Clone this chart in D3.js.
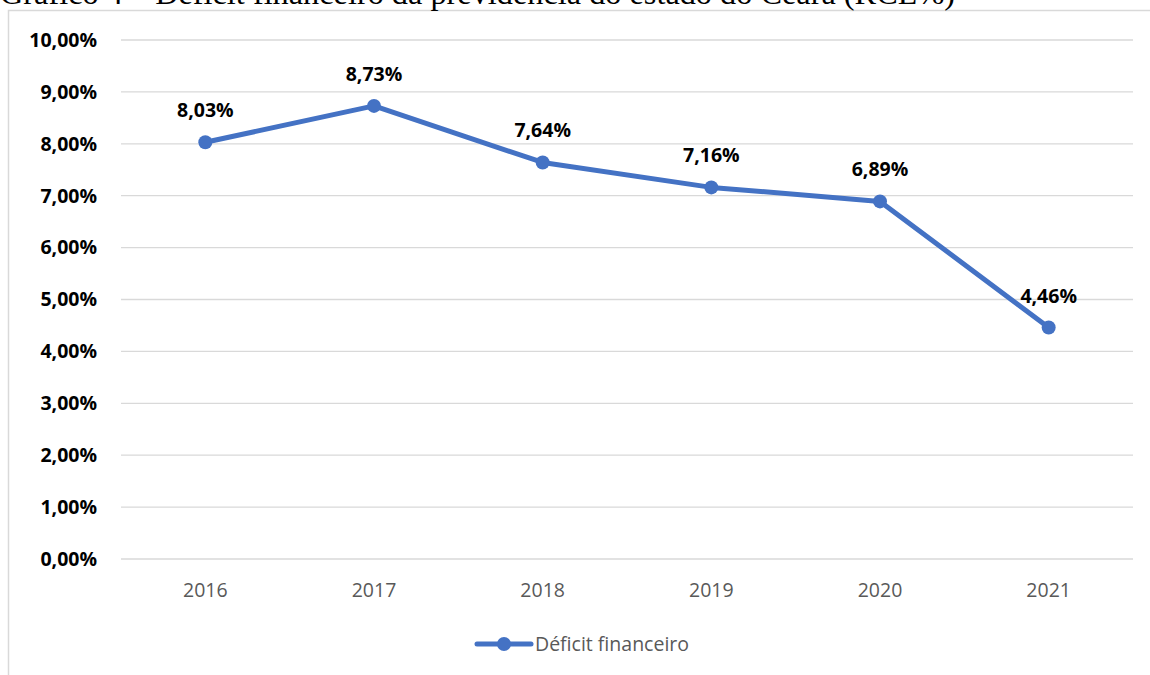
<!DOCTYPE html>
<html>
    <head>
        <meta charset="utf-8" />
        <title>Déficit financeiro</title>
        <style type="text/css">
            body {
                margin: 0;
                background-color: #fff;
            }
            svg {
                display: block;
            }
            .grid line {
                stroke: #d9d9d9;
                stroke-width: 1.3px;
            }
            .ylabel {
                font-family: "Open Sans", sans-serif;
                font-weight: bold;
                font-size: 19.5px;
                fill: #000;
            }
            .xlabel {
                font-family: "Open Sans", sans-serif;
                font-size: 19.5px;
                fill: #595959;
            }
            .dlabel {
                font-family: "Open Sans", sans-serif;
                font-weight: bold;
                font-size: 19.5px;
                fill: #000;
            }
            .title {
                font-family: "Liberation Serif", "Times New Roman", serif;
                font-size: 32.3px;
                fill: #000;
            }
        </style>
        <script src="https://d3js.org/d3.v7.min.js"></script>
    </head>
    <body>
        <div id="chart"></div>
        <script type="text/javascript">
            var years = ["2016", "2017", "2018", "2019", "2020", "2021"];
            var deficit = [8.03, 8.73, 7.64, 7.16, 6.89, 4.46];
            var yTicks = [0, 1, 2, 3, 4, 5, 6, 7, 8, 9, 10];
            var seriesName = "Déficit financeiro";
            var titleText = "Gráfico 4 – Déficit financeiro da previdência do estado do Ceará (RCL%)";

            var width = 1150,
                height = 675;
            var blue = "#4472c4";

            var fmt = function (v) {
                return v.toFixed(2).replace(".", ",") + "%";
            };

            var svg = d3
                .select("#chart")
                .append("svg")
                .attr("width", width)
                .attr("height", height);

            // frame (runs off the right and bottom edge)
            svg.append("rect")
                .attr("x", 8.5)
                .attr("y", 10.5)
                .attr("width", 1200)
                .attr("height", 700)
                .attr("fill", "#fff")
                .attr("stroke", "#d9d9d9")
                .attr("stroke-width", 1.5);

            // title is clipped by the top of the page, as in the original
            svg.append("text")
                .attr("class", "title")
                .attr("x", 0)
                .attr("y", 4)
                .text(titleText);

            var xScale = d3
                .scaleBand()
                .domain(years)
                .range([121, 1133]);

            var yScale = d3.scaleLinear().domain([0, 10]).range([559, 40]);

            var grid = svg.append("g").attr("class", "grid");
            grid.selectAll("line")
                .data(yTicks)
                .enter()
                .append("line")
                .attr("x1", xScale.range()[0])
                .attr("x2", xScale.range()[1])
                .attr("y1", function (d) {
                    return yScale(d);
                })
                .attr("y2", function (d) {
                    return yScale(d);
                });

            svg.selectAll(".ylabel")
                .data(yTicks)
                .enter()
                .append("text")
                .attr("class", "ylabel")
                .attr("x", 97)
                .attr("y", function (d) {
                    return yScale(d);
                })
                .attr("dy", "0.35em")
                .attr("text-anchor", "end")
                .text(fmt);

            var cx = function (d, i) {
                return xScale(years[i]) + xScale.bandwidth() / 2;
            };

            svg.selectAll(".xlabel")
                .data(years)
                .enter()
                .append("text")
                .attr("class", "xlabel")
                .attr("x", function (d) {
                    return xScale(d) + xScale.bandwidth() / 2;
                })
                .attr("y", 597)
                .attr("text-anchor", "middle")
                .text(function (d) {
                    return d;
                });

            var line = d3
                .line()
                .x(cx)
                .y(function (d) {
                    return yScale(d);
                });

            svg.append("path")
                .datum(deficit)
                .attr("d", line)
                .attr("fill", "none")
                .attr("stroke", blue)
                .attr("stroke-width", 5)
                .attr("stroke-linejoin", "round")
                .attr("stroke-linecap", "round");

            svg.selectAll(".dot")
                .data(deficit)
                .enter()
                .append("circle")
                .attr("class", "dot")
                .attr("cx", cx)
                .attr("cy", function (d) {
                    return yScale(d);
                })
                .attr("r", 7)
                .attr("fill", blue);

            svg.selectAll(".dlabel")
                .data(deficit)
                .enter()
                .append("text")
                .attr("class", "dlabel")
                .attr("x", cx)
                .attr("y", function (d) {
                    return yScale(d) - 25;
                })
                .attr("text-anchor", "middle")
                .text(fmt);

            // legend
            var lg = svg.append("g").attr("transform", "translate(504,644)");
            lg.append("line")
                .attr("x1", -27)
                .attr("x2", 27)
                .attr("stroke", blue)
                .attr("stroke-width", 5)
                .attr("stroke-linecap", "round");
            lg.append("circle").attr("r", 7).attr("fill", blue);
            lg.append("text")
                .attr("class", "xlabel")
                .attr("x", 31)
                .attr("dy", "0.35em")
                .text(seriesName);
        </script>
    </body>
</html>
